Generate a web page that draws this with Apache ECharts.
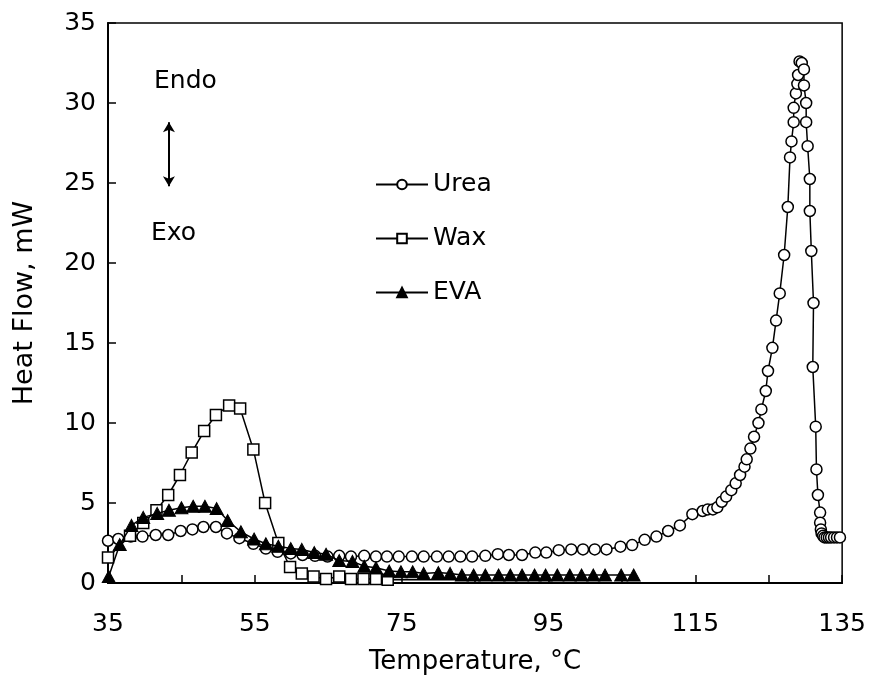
<!DOCTYPE html>
<html><head><meta charset="utf-8">
<script src="https://cdn.jsdelivr.net/npm/echarts@6/dist/echarts.min.js"></script>
<style>html,body{margin:0;padding:0;background:#fff}#c{width:869px;height:688px}</style>
</head><body><div id="c"></div>
<script>
const xTicks = [35, 55, 75, 95, 115, 135];
const yTicks = [0, 5, 10, 15, 20, 25, 30, 35];

const ureaT = [35.0,36.4,38.1,39.7,41.5,43.2,44.9,46.5,48.0,49.7,51.2,52.9,54.8,56.5,58.1,59.9,61.5,63.2,64.9,66.5,68.1,69.9,71.5,73.0,74.6,76.4,78.0,79.8,81.4,83.0,84.6,86.4,88.1,89.6,91.4,93.2,94.7,96.4,98.1,99.7,101.3,102.9,104.8,106.4,108.1,109.7,111.3,112.9,114.6,116.0,116.7,117.4,118.0,118.6,119.2,119.9,120.5,121.1,121.7,122.0,122.5,123.0,123.6,124.0,124.6,124.9,125.5,126.0,126.5,127.1,127.6,127.9,128.1,128.4,128.4,128.7,128.9,129.0,129.2,129.5,129.8,129.8,130.1,130.1,130.3,130.6,130.6,130.8,131.1,131.0,131.4,131.5,131.7,132.0,132.0,132.1,132.2,132.4,132.6,132.9,133.2,133.5,133.9,134.3,134.7];
const ureaH = [2.64,2.75,2.9,2.9,3.0,3.0,3.25,3.35,3.5,3.5,3.1,2.8,2.45,2.15,1.95,1.85,1.75,1.7,1.65,1.7,1.65,1.7,1.65,1.65,1.65,1.65,1.65,1.65,1.65,1.65,1.65,1.7,1.8,1.75,1.75,1.9,1.9,2.05,2.1,2.1,2.1,2.1,2.27,2.37,2.7,2.9,3.25,3.6,4.3,4.5,4.6,4.6,4.73,5.08,5.4,5.8,6.23,6.75,7.27,7.73,8.4,9.14,10.0,10.85,12.0,13.25,14.7,16.4,18.1,20.5,23.5,26.6,27.6,28.8,29.7,30.6,31.2,31.75,32.6,32.5,32.1,31.1,30.0,28.8,27.3,25.25,23.25,20.75,17.5,13.5,9.77,7.1,5.5,4.4,3.77,3.35,3.1,2.95,2.85,2.85,2.85,2.85,2.85,2.85,2.85];

const waxT = [35.0,38.0,39.8,41.6,43.2,44.8,46.4,48.1,49.7,51.5,53.0,54.8,56.4,58.2,59.8,61.4,63.0,64.7,66.5,68.1,69.8,71.5,73.1];
const waxH = [1.6,2.95,3.75,4.55,5.5,6.75,8.15,9.5,10.5,11.1,10.9,8.35,5.0,2.5,1.0,0.6,0.4,0.25,0.4,0.25,0.25,0.25,0.2];
// wax trace continues without visible markers
const waxTailT = [74.8,76.4,78.0,79.7,81.3,82.6];
const waxTailH = [0.2,0.2,0.2,0.2,0.2,0.2];

const evaT = [35.1,36.6,38.2,39.8,41.7,43.3,45.0,46.6,48.2,49.8,51.3,53.1,54.9,56.5,58.2,59.9,61.4,63.1,64.7,66.5,68.3,69.9,71.5,73.3,74.9,76.5,78.0,80.0,81.6,83.2,84.8,86.4,88.2,89.8,91.4,93.1,94.6,96.2,97.9,99.5,101.1,102.7,104.9,106.6];
const evaH = [0.4,2.4,3.6,4.1,4.35,4.55,4.7,4.8,4.8,4.65,3.9,3.2,2.75,2.45,2.3,2.15,2.1,1.9,1.8,1.4,1.35,1.05,0.95,0.75,0.7,0.7,0.6,0.65,0.6,0.5,0.5,0.5,0.5,0.5,0.5,0.5,0.5,0.5,0.5,0.5,0.5,0.5,0.5,0.5];

// Endo/Exo arrow in data coordinates
const arrowT = 43.3;
const arrowFrom = 28.8, arrowTo = 24.8;

const FONT = 'DejaVu Sans';
const pair = (a, b) => a.map((v, i) => [v, b[i]]);
const waxData = pair(waxT, waxH).concat(pair(waxTailT, waxTailH).map(p => ({value: p, symbol: 'none'})));

const mk = {color: '#fff', borderColor: '#000', borderWidth: 1.5};
const chart = echarts.init(document.getElementById('c'), null, {renderer: 'canvas'});
chart.setOption({
  animation: false,
  backgroundColor: '#fff',
  grid: {left: 108, right: 24, top: 23, bottom: 105, show: true, borderColor: '#000', borderWidth: 1.5, backgroundColor: 'transparent'},
  xAxis: {
    type: 'value', min: 35, max: 135, interval: 10,
    name: 'Temperature, °C', nameLocation: 'middle', nameGap: 66,
    nameTextStyle: {fontFamily: FONT, fontSize: 26, color: '#000'},
    axisLine: {lineStyle: {color: '#000', width: 2}},
    axisTick: {inside: true, length: 8, lineStyle: {color: '#000', width: 1.5}},
    axisLabel: {fontFamily: FONT, fontSize: 25, color: '#000', margin: 29,
      formatter: v => xTicks.includes(v) ? String(v) : ''},
    splitLine: {show: false}
  },
  yAxis: {
    type: 'value', min: 0, max: 35, interval: 5,
    name: 'Heat Flow, mW', nameLocation: 'middle', nameGap: 70,
    nameTextStyle: {fontFamily: FONT, fontSize: 27, color: '#000'},
    axisLine: {lineStyle: {color: '#000', width: 2}},
    axisTick: {inside: true, length: 8, lineStyle: {color: '#000', width: 1.5}},
    axisLabel: {fontFamily: FONT, fontSize: 25, color: '#000', margin: 12,
      formatter: v => yTicks.includes(v) ? String(v) : ''},
    splitLine: {show: false}
  },
  legend: {
    orient: 'vertical', left: 370, top: 167, itemWidth: 52, itemHeight: 12, itemGap: 29,
    textStyle: {fontFamily: FONT, fontSize: 25, color: '#000'},
    data: ['Urea', 'Wax', 'EVA']
  },
  graphic: [
    {type: 'text', left: 154, top: 69, style: {text: 'Endo', font: '25px "DejaVu Sans"', fill: '#000'}},
    {type: 'text', left: 151, top: 221, style: {text: 'Exo', font: '25px "DejaVu Sans"', fill: '#000'}}
  ],
  series: [
    {name: 'Urea', type: 'line', data: pair(ureaT, ureaH), symbol: 'circle', symbolSize: 11,
     itemStyle: mk, lineStyle: {color: '#000', width: 1.5}, z: 2},
    {name: 'Wax', type: 'line', data: waxData, symbol: 'rect', symbolSize: 11,
     itemStyle: mk, lineStyle: {color: '#000', width: 1.5}, z: 3},
    {name: 'EVA', type: 'line', data: pair(evaT, evaH), symbol: 'triangle', symbolSize: [13, 12],
     itemStyle: {color: '#000', borderColor: '#000', borderWidth: 1}, lineStyle: {color: '#000', width: 1.5}, z: 4,
     markLine: {silent: true, symbol: ['arrow', 'arrow'], symbolSize: [9, 10],
       lineStyle: {color: '#000', width: 2, type: 'solid'}, label: {show: false},
       data: [[{coord: [arrowT, arrowFrom]}, {coord: [arrowT, arrowTo]}]]}}
  ]
});
</script></body></html>
